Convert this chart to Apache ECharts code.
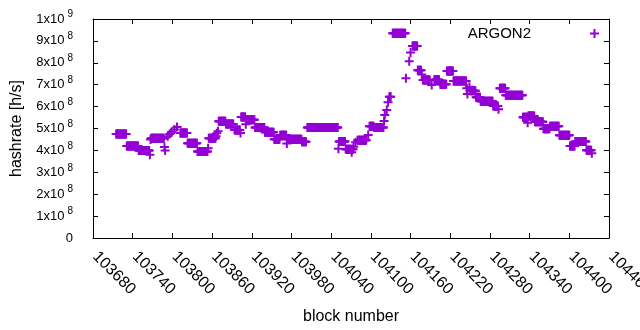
<!DOCTYPE html>
<html>
<head>
<meta charset="utf-8">
<script src="https://cdn.jsdelivr.net/npm/echarts@6/dist/echarts.min.js"></script>
<style>
  html, body { margin: 0; padding: 0; background: #fff; }
  #main { width: 640px; height: 330px; }
</style>
</head>
<body>
<div id="main"></div>
<script>
// runs of blocks with the same hashrate (value in units of 1e8 h/s)
var runStart = [103715, 103731, 103749, 103766, 103767, 103768, 103788, 103789, 103793, 103796,
  103799, 103803, 103807, 103812, 103823, 103838, 103854, 103855, 103866, 103867,
  103869, 103870, 103881, 103894, 103903, 103904, 103911, 103912, 103925, 103940,
  103954, 103963, 103973, 103974, 103996, 104004, 104051, 104052, 104062, 104071,
  104072, 104074, 104077, 104080, 104096, 104098, 104105, 104120, 104121, 104124,
  104126, 104128, 104133, 104153, 104158, 104160, 104163, 104171, 104177, 104179,
  104192, 104196, 104205, 104215, 104225, 104245, 104246, 104249, 104250, 104259,
  104266, 104285, 104293, 104295, 104304, 104330, 104337, 104338, 104348, 104361,
  104371, 104385, 104401, 104409, 104426, 104434];
var runEnd = [103730, 103748, 103765, 103766, 103767, 103787, 103788, 103789, 103793, 103796,
  103799, 103803, 103807, 103822, 103837, 103853, 103854, 103865, 103866, 103867,
  103869, 103880, 103892, 103902, 103903, 103910, 103911, 103924, 103939, 103953,
  103962, 103972, 103973, 103995, 104002, 104050, 104051, 104061, 104070, 104071,
  104073, 104074, 104077, 104093, 104096, 104104, 104119, 104120, 104121, 104124,
  104126, 104130, 104152, 104153, 104158, 104160, 104170, 104176, 104177, 104189,
  104192, 104203, 104214, 104224, 104244, 104245, 104246, 104249, 104258, 104265,
  104284, 104292, 104293, 104303, 104329, 104336, 104337, 104347, 104360, 104370,
  104384, 104400, 104408, 104425, 104433, 104434];
var runValue = [4.75, 4.2, 4.0, 3.8, 4.5, 4.55, 4.15, 4.0, 4.65, 4.75,
  4.85, 4.95, 5.07, 4.8, 4.33, 3.95, 4.1, 4.55, 4.65, 4.78,
  4.87, 5.33, 5.2, 4.93, 4.8, 5.52, 5.19, 5.4, 5.05, 4.83,
  4.51, 4.69, 4.32, 4.51, 4.4, 5.05, 4.08, 4.41, 4.05, 3.92,
  4.05, 4.17, 4.37, 4.46, 4.7, 5.1, 5.04, 5.34, 5.62, 5.84,
  6.2, 6.45, 9.35, 7.29, 8.07, 8.47, 8.77, 7.66, 7.47, 7.21,
  6.99, 7.23, 7.02, 7.63, 7.17, 6.84, 6.58, 6.91, 6.72, 6.43,
  6.24, 6.03, 5.88, 6.84, 6.52, 5.51, 5.26, 5.57, 5.31, 4.99,
  5.1, 4.69, 4.2, 4.41, 4.01, 3.87];

var seriesName = 'ARGON2';
var xMin = 103680, xMax = 104460, xStep = 60;
var yMin = 0, yMax = 1e9, yStep = 1e8;

var points = [];
for (var i = 0; i < runStart.length; i++) {
  for (var b = runStart[i]; b <= runEnd[i]; b++) {
    points.push([b, runValue[i] * 1e8]);
  }
}

var plus = 'path://M3.5,0h2v3.5h3.5v2h-3.5v3.5h-2v-3.5h-3.5v-2h3.5z';
var purple = '#9400d3';
var font = 'Liberation Sans, Arial, sans-serif';
var lineStyle = { color: '#000', width: 1 };

var myChart = echarts.init(document.getElementById('main'));
var option = {
  animation: false,
  backgroundColor: '#fff',
  textStyle: { fontFamily: font, color: '#000' },
  grid: { left: 93, right: 31, top: 19, bottom: 92, containLabel: false, outerBoundsMode: 'none' },
  legend: {
    data: [seriesName],
    right: 36,
    top: 21,
    align: 'right',
    icon: plus,
    itemWidth: 9,
    itemHeight: 9,
    textStyle: { fontFamily: font, fontSize: 15, color: '#000', padding: [0, 54, 0, 0] }
  },
  xAxis: [{
    type: 'value',
    position: 'bottom',
    min: xMin, max: xMax, interval: xStep,
    name: 'block number',
    nameLocation: 'middle',
    nameGap: 71,
    nameTextStyle: { fontFamily: font, fontSize: 16, color: '#000' },
    axisLine: { show: true, onZero: false, lineStyle: lineStyle },
    axisTick: { show: true, inside: true, length: 5, lineStyle: lineStyle },
    splitLine: { show: false },
    axisLabel: {
      rotate: -45, margin: 14, padding: [0, 0, 0, 3],
      fontFamily: font, fontSize: 16, color: '#000',
      formatter: function (v) { return String(v); }
    }
  }, {
    type: 'value',
    position: 'top',
    min: xMin, max: xMax, interval: xStep,
    axisLine: { show: true, onZero: false, lineStyle: lineStyle },
    axisTick: { show: true, inside: true, length: 5, lineStyle: lineStyle },
    splitLine: { show: false },
    axisLabel: { show: false }
  }],
  yAxis: [{
    type: 'value',
    position: 'left',
    min: yMin, max: yMax, interval: yStep,
    name: 'hashrate [h/s]',
    nameLocation: 'middle',
    nameGap: 68,
    nameRotate: 90,
    nameTextStyle: { fontFamily: font, fontSize: 16, color: '#000' },
    axisLine: { show: true, onZero: false, lineStyle: lineStyle },
    axisTick: { show: true, inside: true, length: 5, lineStyle: lineStyle },
    splitLine: { show: false },
    axisLabel: {
      margin: 20,
      fontFamily: font, fontSize: 13, color: '#000',
      formatter: function (v) {
        if (v === 0) return '{m|0}';
        if (v >= 1e9) return '{m|1x10}{s|9}';
        return '{m|' + Math.round(v / 1e8) + 'x10}{s|8}';
      },
      rich: {
        m: { fontFamily: font, fontSize: 13, color: '#000' },
        s: { fontFamily: font, fontSize: 10, color: '#000', padding: [0, 0, 9, 3] }
      }
    }
  }, {
    type: 'value',
    position: 'right',
    min: yMin, max: yMax, interval: yStep,
    axisLine: { show: true, onZero: false, lineStyle: lineStyle },
    axisTick: { show: true, inside: true, length: 5, lineStyle: lineStyle },
    splitLine: { show: false },
    axisLabel: { show: false }
  }],
  series: [{
    name: seriesName,
    type: 'scatter',
    xAxisIndex: 0,
    yAxisIndex: 0,
    symbol: plus,
    symbolSize: 9,
    itemStyle: { color: purple, opacity: 1 },
    data: points
  }]
};
myChart.setOption(option);
</script>
</body>
</html>
